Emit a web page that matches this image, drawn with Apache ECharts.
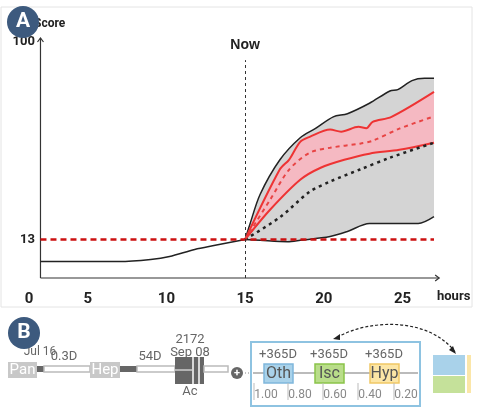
<!DOCTYPE html>
<html>
<head>
<meta charset="utf-8">
<script src="https://cdn.jsdelivr.net/npm/echarts@6/dist/echarts.min.js"></script>
<style>
html, body { margin: 0; padding: 0; background: #fff; }
#main { width: 479px; height: 413px; }
</style>
</head>
<body>
<div id="main"></div>
<script>
// score over time, "now" at hour 15
var pastScore = [[2, 3.3], [5, 3.3], [7, 3.3], [9, 4.2], [10.2, 5.5], [11.8, 8.6], [13.1, 10.4], [15, 13]];
var grayUpper = [[15, 13], [15.3, 19.6], [15.95, 32.8], [17.2, 48], [18.5, 57.8], [19.45, 61.8], [20.6, 67], [21.5, 68.4], [22.9, 73], [24.2, 78.4], [24.7, 79], [25.6, 83], [26.4, 84], [27, 84]];
var grayLower = [[15, 13], [15.95, 12.6], [17.7, 12], [18.5, 12.6], [20.4, 14.3], [21.5, 16.5], [22.9, 20], [26, 20], [27, 23]];
var redUpper = [[15, 13], [17.2, 43.8], [17.8, 48.2], [18.5, 56], [19.1, 58.2], [20.4, 61.4], [21.1, 60.5], [22.2, 62.6], [22.7, 62], [23.1, 64.8], [24.3, 67], [27, 78]];
var redMid = [[15, 13], [16.6, 30.6], [17.8, 43.8], [19.1, 51.2], [20.4, 53.4], [22.3, 55.2], [23.1, 56.5], [24.8, 61.8], [26.9, 67]];
var redLower = [[15, 13], [16.6, 26.2], [18.5, 39.3], [19.8, 44.6], [21.3, 48.1], [22.9, 50.8], [24.8, 52.5], [27, 55.6]];
var blackDotted = [[15, 13], [17.2, 22.7], [19.1, 34], [20.4, 38.5], [22.3, 43.8], [24.2, 49], [27, 55.6]];
var baseline = [[2, 13], [27, 13]];
var yTicks = [13, 100];
var xTicks = [0, 5, 10, 15, 20, 25];
var nowHour = 15;

// panel B
var eventLabels = ['Pan', 'Hep'];
var gapLabels = ['0.3D', '54D'];
var futureLabels = ['Oth', 'Isc', 'Hyp'];
var futureOffsets = ['+365D', '+365D', '+365D'];
var probTicks = ['1.00', '0.80', '0.60', '0.40', '0.20'];

var GRAY = '#d4d4d4', PINK = '#f5b9c2';
var chart = echarts.init(document.getElementById('main'));

function band(name, data, fill, lineColor, lw, type) {
  return {
    name: name, type: 'line', data: data, showSymbol: false, smooth: 0.3,
    lineStyle: { color: lineColor, width: lw, type: type || 'solid' },
    areaStyle: fill ? { color: fill, opacity: 1 } : undefined,
    silent: true
  };
}

chart.setOption({
  animation: false,
  grid: { left: 9, right: 45, top: 42, height: 236, outerBoundsMode: 'none' },
  xAxis: {
    type: 'value', min: 0, max: 27, interval: 5,
    axisLine: { show: false }, axisTick: { show: false }, splitLine: { show: false },
    axisLabel: {
      margin: 14, fontSize: 15, fontWeight: 'bold', color: '#222', fontFamily: 'Roboto',
      customValues: xTicks,
      formatter: function (v) { return v === 0 ? '{z|0}' : String(v); },
      rich: { z: { padding: [0, 0, 0, 40], fontSize: 15, fontWeight: 'bold', color: '#222' } }
    }
  },
  yAxis: {
    type: 'value', min: -4, max: 100,
    axisLine: { show: false }, axisTick: { show: false }, splitLine: { show: false },
    axisLabel: { customValues: yTicks, margin: -26, align: 'right', fontSize: 13, fontWeight: 'bold', color: '#222', fontFamily: 'Roboto' }
  },
  series: [
    band('grayUpper', grayUpper, GRAY, '#222', 1.5),
    band('redUpper', redUpper, PINK, '#ee3333', 2),
    band('redLowerFill', redLower, GRAY, '#ee3333', 2),
    band('grayLower', grayLower, '#fff', '#222', 1.5),
    band('blackDotted', blackDotted, null, '#222', 2.5, [3, 4]),
    band('redMid', redMid, null, '#e84444', 2, [4, 4]),
    band('pastScore', pastScore, null, '#222', 1.5),
    {
      type: 'line', data: baseline, showSymbol: false, silent: true,
      lineStyle: { color: '#cc1111', width: 2.5, type: [6, 4] },
      markLine: {
        symbol: 'none', silent: true,
        label: { show: true, position: 'end', formatter: 'Now', fontSize: 14, fontWeight: 'bold', color: '#222', distance: 8 },
        lineStyle: { color: '#333', width: 1, type: [3, 3] },
        data: [[{ coord: [nowHour, -4] }, { coord: [nowHour, 92] }]]
      }
    }
  ]
});

// axes, labels & panel B decorations
var o = chart.convertToPixel({ gridIndex: 0 }, [2, -4]);
var e = chart.convertToPixel({ gridIndex: 0 }, [27.2, 100]);
var g = [];
g.push({ type: 'rect', shape: { x: 1, y: 7, width: 471, height: 300 }, style: { fill: 'none', stroke: '#e4e4e4', lineWidth: 1 }, z: -1 });
g.push({ type: 'line', shape: { x1: o[0], y1: o[1], x2: e[0] + 2, y2: o[1] }, style: { stroke: '#333', lineWidth: 1.2 } });
g.push({ type: 'polyline', shape: { points: [[e[0] - 2, o[1] - 3], [e[0] + 2, o[1]], [e[0] - 2, o[1] + 3]] }, style: { stroke: '#333', fill: 'none', lineWidth: 1.2 } });
g.push({ type: 'line', shape: { x1: o[0], y1: o[1], x2: o[0], y2: e[1] - 4 }, style: { stroke: '#333', lineWidth: 1.2 } });
g.push({ type: 'polyline', shape: { points: [[o[0] - 3, e[1]], [o[0], e[1] - 4], [o[0] + 3, e[1]]] }, style: { stroke: '#333', fill: 'none', lineWidth: 1.2 } });
g.push({ type: 'text', x: 34, y: 18, style: { text: 'Score', fontSize: 12, fontWeight: 'bold', fill: '#222', fontFamily: 'Roboto' } });
g.push({ type: 'text', x: 437, y: 290, style: { text: 'hours', fontSize: 13, fontWeight: 'bold', fill: '#222', fontFamily: 'Roboto' } });

function badge(cx, cy, letter) {
  g.push({ type: 'circle', shape: { cx: cx, cy: cy, r: 16 }, style: { fill: '#3d5a7e' }, z: 10 });
  g.push({ type: 'text', x: cx, y: cy, style: { text: letter, fontSize: 21, fontWeight: 'bold', fill: '#fff', align: 'center', verticalAlign: 'middle', fontFamily: 'Roboto' }, z: 11 });
}
var T = { fontFamily: 'Roboto', fill: '#666', fontSize: 12, align: 'center', verticalAlign: 'middle' };
function txt(x, y, s, extra) { g.push({ type: 'text', x: x, y: y, style: Object.assign({}, T, { text: s }, extra || {}) }); }
function rect(x, y, w, h, fill, stroke) { g.push({ type: 'rect', shape: { x: x, y: y, width: w, height: h }, style: { fill: fill, stroke: stroke || 'none', lineWidth: stroke ? 1.5 : 0 } }); }
function pipe(x1, x2) { rect(x1, 366, x2 - x1, 6, '#fff', '#bbb'); }

txt(40, 352, 'Jul 16');
rect(8, 362, 29, 16, '#c8c8c8'); txt(22.5, 370, eventLabels[0], { fill: '#fff', fontSize: 15 });
rect(37, 366, 7, 6, '#666'); pipe(44, 90); txt(64, 357, gapLabels[0], { fontSize: 13 });
rect(90, 362, 30, 16, '#c8c8c8'); txt(105, 370, eventLabels[1], { fill: '#fff', fontSize: 15 });
rect(120, 366, 17, 6, '#666'); pipe(137, 175); txt(150, 357, gapLabels[1], { fontSize: 13 });
rect(175, 357, 29, 27, '#666');
g.push({ type: 'line', shape: { x1: 193, y1: 357, x2: 193, y2: 384 }, style: { stroke: '#fff', lineWidth: 1.5 } });
g.push({ type: 'line', shape: { x1: 199, y1: 357, x2: 199, y2: 384 }, style: { stroke: '#fff', lineWidth: 1.5 } });
g.push({ type: 'line', shape: { x1: 175, y1: 370, x2: 192, y2: 370 }, style: { stroke: '#fff', lineWidth: 1 } });
pipe(204, 228);
txt(190, 340, '2172', { fontSize: 13 }); txt(190, 353, 'Sep 08', { fontSize: 13 }); txt(190, 392, 'Ac', { fontSize: 13 });
g.push({ type: 'circle', shape: { cx: 237, cy: 373, r: 6 }, style: { fill: '#666' } });
txt(237, 373, '+', { fill: '#fff', fontSize: 11, fontWeight: 'bold' });
g.push({ type: 'line', shape: { x1: 245, y1: 373, x2: 252, y2: 373 }, style: { stroke: '#888', lineDash: [1, 2] } });

rect(251, 342, 169, 64, 'none', '#8ec3e1'); g[g.length - 1].style.lineWidth = 2;
g.push({ type: 'line', shape: { x1: 253, y1: 373, x2: 418, y2: 373 }, style: { stroke: '#bbb', lineWidth: 2 } });
var fx = [264, 315, 370], ff = ['#a9d2ea', '#b9dd8a', '#fce6a6'], fs = ['#7fb7dc', '#8bc34a', '#efc865'];
futureLabels.forEach(function (l, i) {
  rect(fx[i], 364, 29, 19, ff[i], fs[i]);
  txt(fx[i] + 14.5, 374, l, { fontSize: 16, fill: '#555' });
  txt(fx[i] + 14, 355, futureOffsets[i], { fontSize: 13 });
});
var px = [254, 288, 323, 358, 394];
probTicks.forEach(function (l, i) {
  g.push({ type: 'line', shape: { x1: px[i], y1: 383, x2: px[i], y2: 400 }, style: { stroke: '#bbb', lineWidth: 1 } });
  txt(px[i] + 12, 395, l, { fontSize: 12, fill: '#888' });
});
g.push({ type: 'bezierCurve', shape: { x1: 455, y1: 352, x2: 336, y2: 338, cpx1: 430, cpy1: 318, cpx2: 370, cpy2: 318 }, style: { stroke: '#222', fill: 'none', lineWidth: 1.2, lineDash: [3, 2] } });
g.push({ type: 'polygon', shape: { points: [[333, 339], [340, 334], [340, 340]] }, style: { fill: '#222' } });
g.push({ type: 'polygon', shape: { points: [[456, 354], [449, 350], [453, 346]] }, style: { fill: '#222' } });
rect(433, 355, 32, 20, '#a9d2ea'); rect(433, 376, 32, 17, '#c5e19a'); rect(467, 355, 4, 38, '#fbe6a8');

badge(23, 22, 'A');
badge(24, 333, 'B');
chart.setOption({ graphic: g });
</script>
</body>
</html>
